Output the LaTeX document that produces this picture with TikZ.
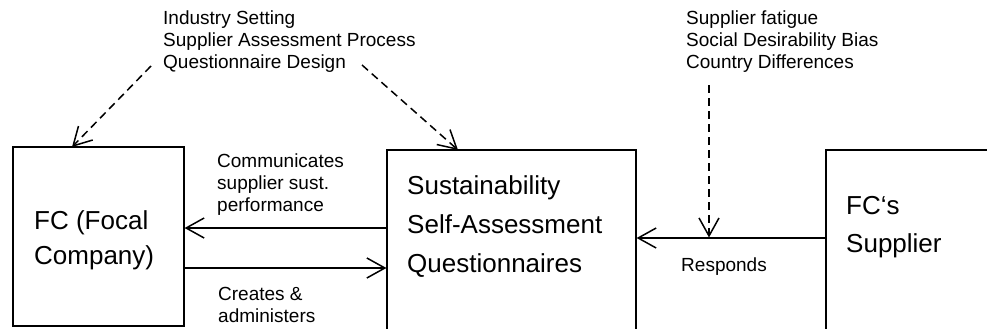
\documentclass[tikz,border=0pt]{standalone}
\usepackage{fontspec}
\setmainfont{Liberation Sans}
\usetikzlibrary{arrows.meta}
\begin{document}
\begin{tikzpicture}[x=1pt,y=-1pt,
  box/.style={draw,line width=1.2pt,rectangle,inner sep=0pt},
  bigtext/.style={align=left,inner sep=0pt,anchor=west},
  smalltext/.style={align=left,inner sep=0pt,anchor=west,font=\fontsize{19}{22}\selectfont},
  arr/.style={line width=1.5pt,-{Straight Barb[length=18pt,width=20pt,line width=1.5pt]}},
  darr/.style={arr,dash pattern=on 8pt off 5pt}]
\useasboundingbox (0,0) rectangle (987,329);
\clip (0,0) rectangle (987,329);
% boxes
\node[box,minimum width=171pt,minimum height=179pt] (fc) at (98.5,236.5) {};
\node[box,minimum width=249pt,minimum height=190pt] (ssaq) at (511.5,245) {};
\node[box,minimum width=174pt,minimum height=190pt] (sup) at (913,245) {};
% box texts
\node[bigtext,font=\fontsize{26}{35}\selectfont] (fct) at (34,240) {FC (Focal\\Company)};
\node[bigtext,font=\fontsize{26}{39}\selectfont] (ssaqt) at (407,227) {Sustainability\\Self-Assessment\\Questionnaires};
\node[bigtext,font=\fontsize{26}{38}\selectfont] (supt) at (846,227) {FC‘s\\Supplier};
% top texts
\node[smalltext] (inf1) at (163,42) {Industry Setting\\Supplier Assessment Process\\Questionnaire Design};
\node[smalltext] (inf2) at (686,42) {Supplier fatigue\\Social Desirability Bias\\Country Differences};
% labels
\node[smalltext] (comm) at (217,185) {Communicates\\supplier sust.\\performance};
\node[smalltext] (crea) at (218,305) {Creates \&\\administers};
\node[smalltext,anchor=center] (resp) at (724,267) {Responds};
% connectors
\coordinate (yup) at (0,228);
\coordinate (ylow) at (0,268);
\coordinate (yresp) at (0,238);
\draw[arr] (ssaq.west |- yup) -- (fc.east |- yup);
\draw[arr] (fc.east |- ylow) -- (ssaq.west |- ylow);
\draw[arr] (sup.west |- yresp) -- (ssaq.east |- yresp);
\coordinate (l1) at (151,66);
\coordinate (l1t) at (72,147);
\coordinate (r1) at (362,65);
\coordinate (r1t) at (458,150);
\coordinate (v1) at (709,85);
\coordinate (v1t) at (709,237.5);
\draw[darr] (l1) -- (l1t);
\draw[darr] (r1) -- (r1t);
\draw[darr] (v1) -- (v1t);
\end{tikzpicture}
\end{document}
